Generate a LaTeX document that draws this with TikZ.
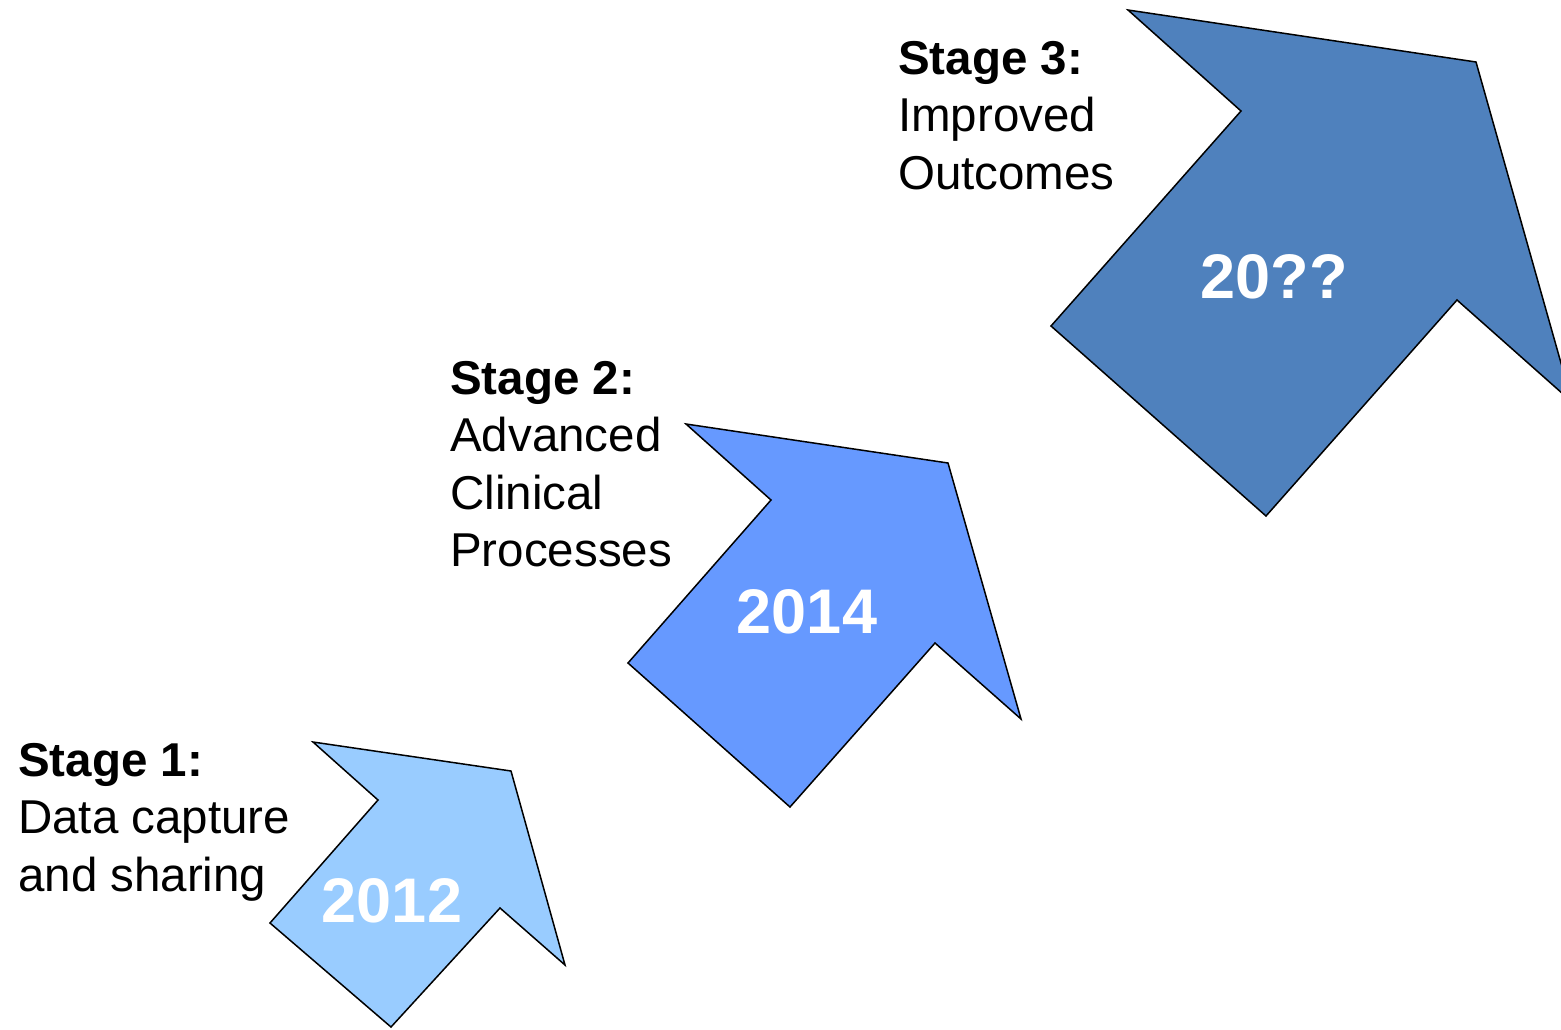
\documentclass[tikz,border=0pt]{standalone}
\usepackage{fontspec}
\setmainfont{Liberation Sans}
\definecolor{arrowA}{HTML}{99CCFF}
\definecolor{arrowB}{HTML}{6699FF}
\definecolor{arrowC}{HTML}{4F81BD}
\begin{document}
\begin{tikzpicture}[x=1pt,y=-1pt,
  arrowshape/.style={draw=black,line width=1.5pt,line join=miter},
  stagelabel/.style={anchor=north west,inner sep=0pt,align=left,
    font=\fontsize{47.5}{57.5}\selectfont,text=black},
  yearlabel/.style={anchor=base,inner sep=0pt,text=white,
    font=\fontsize{63}{70}\selectfont\bfseries}]
\useasboundingbox (0,0) rectangle (1561,1029);
\begin{scope}
\clip (0,0) rectangle (1561,1029);
\filldraw[arrowshape,fill=arrowA] (313,742) -- (511,771) -- (565,965) -- (500,908) -- (391,1027) -- (270,923) -- (378,800) -- cycle;
\filldraw[arrowshape,fill=arrowB] (686,424) -- (948,463) -- (1021,719) -- (935,643) -- (790,807) -- (628,663) -- (771,500) -- cycle;
\filldraw[arrowshape,fill=arrowC] (1128,10) -- (1476,62) -- (1572,402) -- (1457,300) -- (1266,516) -- (1051,326) -- (1241,111) -- cycle;
\end{scope}
\node[yearlabel] (y1) at (392,922) {2012};
\node[yearlabel] (y2) at (807,633) {2014};
\node[yearlabel] (y3) at (1274,298) {20??};
\node[stagelabel] (s1) at (18,743) {\textbf{Stage 1:}\\Data capture\\and sharing};
\node[stagelabel] (s2) at (450,361) {\textbf{Stage 2:}\\Advanced\\Clinical\\Processes};
\node[stagelabel] (s3) at (898,41) {\textbf{Stage 3:}\\Improved\\Outcomes};
\end{tikzpicture}
\end{document}
